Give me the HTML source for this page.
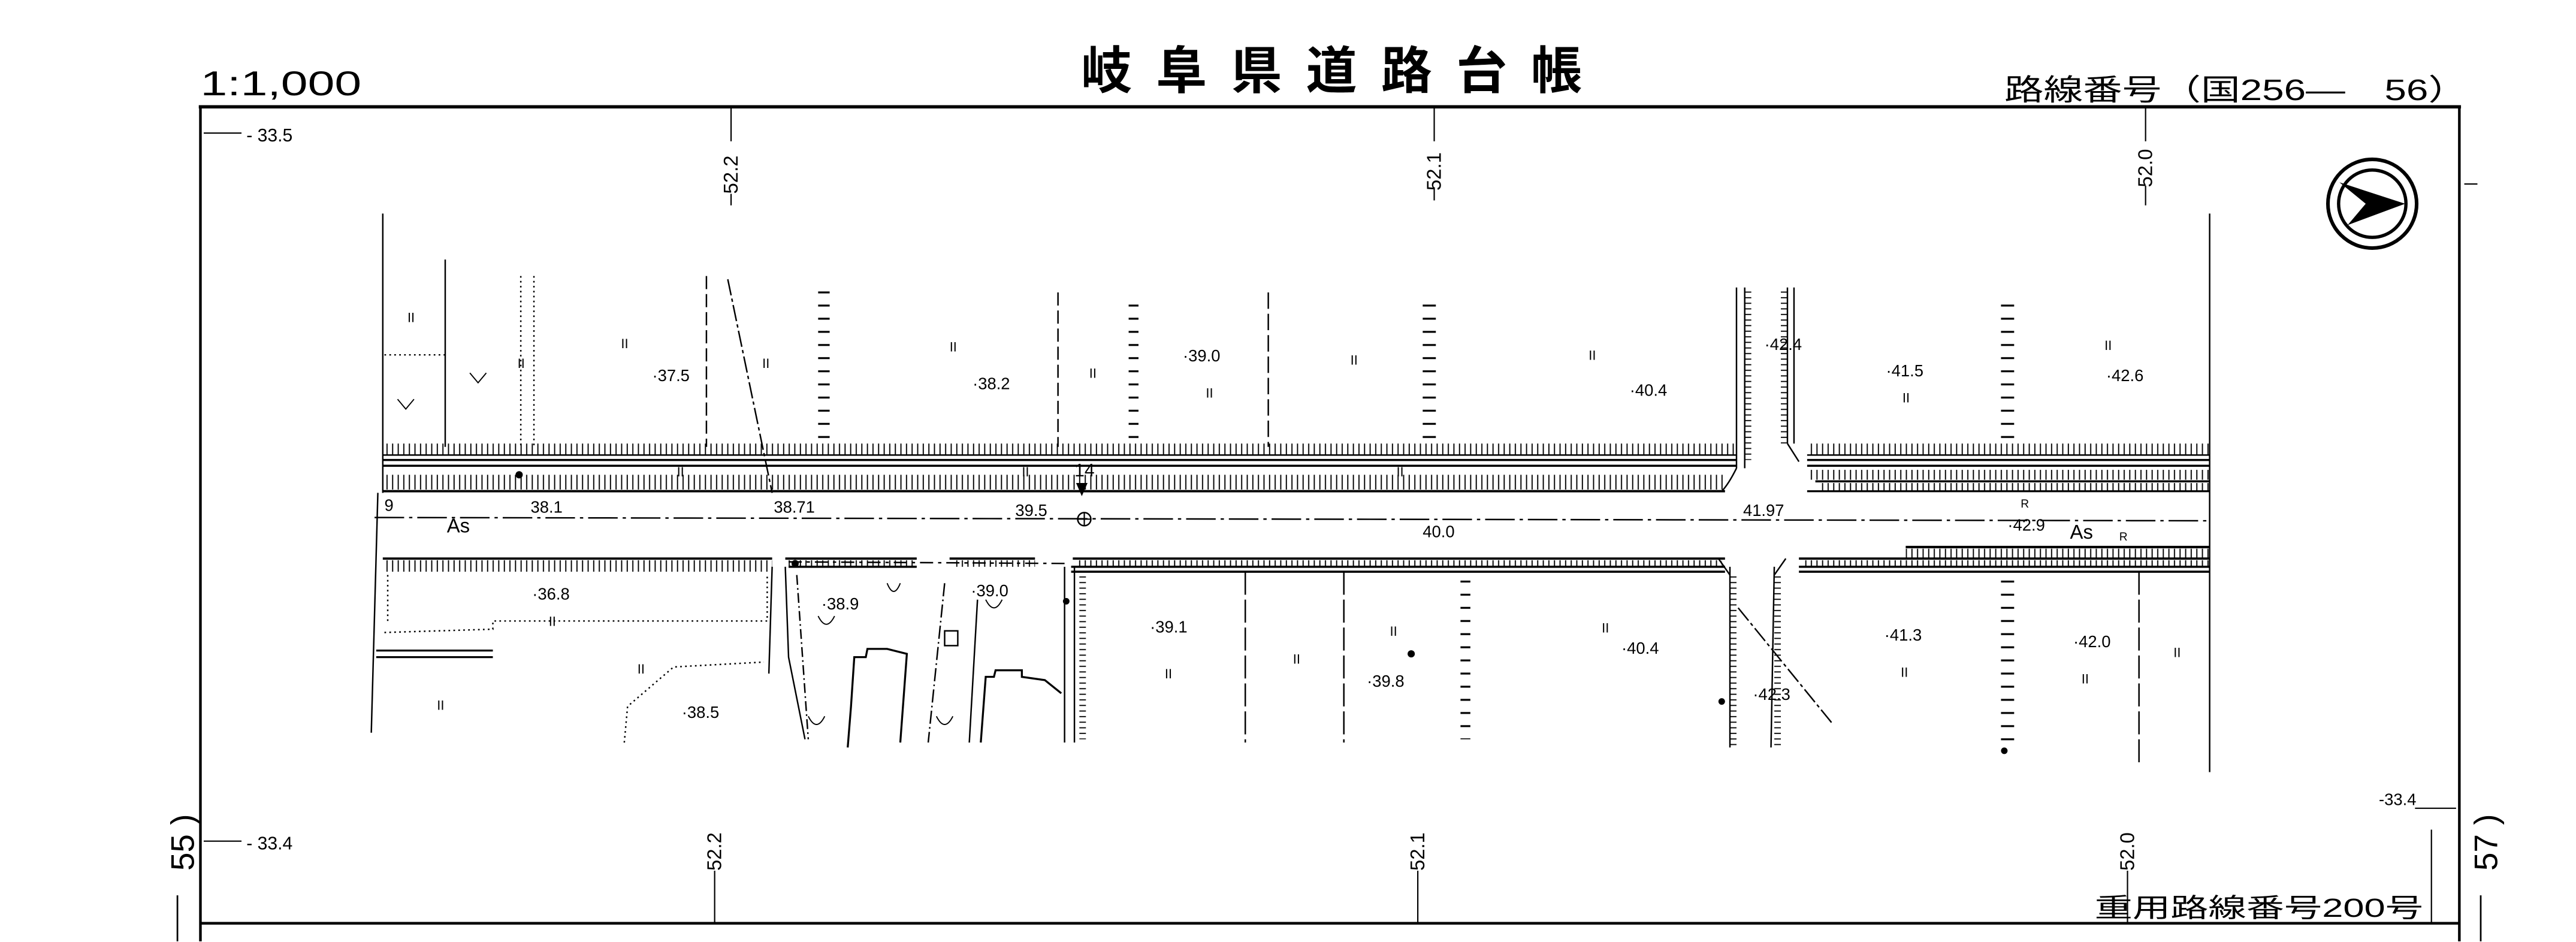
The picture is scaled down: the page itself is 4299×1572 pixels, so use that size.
<!DOCTYPE html>
<html><head><meta charset="utf-8"><style>
html,body{margin:0;padding:0;background:#fff;width:4299px;height:1572px;overflow:hidden}
svg{display:block}
text{font-family:"Liberation Sans","Noto Sans CJK JP",sans-serif;fill:#000}
</style></head><body>
<svg width="4299" height="1572" viewBox="0 0 1568 573.4" preserveAspectRatio="none" xmlns="http://www.w3.org/2000/svg">
<defs>
<pattern id="hd" width="3.4" height="10" patternUnits="userSpaceOnUse"><line x1="1" y1="0" x2="1" y2="10" stroke="#000" stroke-width="0.7"/></pattern>
<pattern id="hv" width="10" height="3.4" patternUnits="userSpaceOnUse"><line x1="0" y1="1" x2="10" y2="1" stroke="#000" stroke-width="0.7"/></pattern>
<pattern id="lad" width="8" height="8" patternUnits="userSpaceOnUse"><line x1="0" y1="2" x2="8" y2="2" stroke="#000" stroke-width="1.2"/></pattern>
</defs>
<!-- header -->
<text x="122" y="58" font-size="21" textLength="98" lengthAdjust="spacingAndGlyphs">1:1,000</text>
<text x="658" y="54" font-size="31" font-weight="bold" textLength="305" lengthAdjust="spacing">岐阜県道路台帳</text>
<text x="1220" y="61" font-size="18" textLength="282" lengthAdjust="spacingAndGlyphs">路線番号（国256—　56）</text>
<!-- frame -->
<g stroke="#000" fill="none">
<line x1="121" y1="65" x2="1498" y2="65" stroke-width="2"/>
<line x1="122" y1="65" x2="122" y2="573" stroke-width="1.6"/>
<line x1="1497" y1="65" x2="1497" y2="573" stroke-width="1.6"/>
<line x1="122" y1="562" x2="1497" y2="562" stroke-width="1.6"/>
<line x1="1480" y1="505" x2="1480" y2="562" stroke-width="0.8"/>
<line x1="124" y1="81" x2="147" y2="81" stroke-width="0.8"/>
<line x1="124" y1="512" x2="147" y2="512" stroke-width="0.8"/>
<line x1="445" y1="66" x2="445" y2="86" stroke-width="0.8"/><line x1="445" y1="118" x2="445" y2="125" stroke-width="0.8"/>
<line x1="873" y1="66" x2="873" y2="86" stroke-width="0.8"/><line x1="873" y1="114" x2="873" y2="122" stroke-width="0.8"/>
<line x1="1306" y1="66" x2="1306" y2="86" stroke-width="0.8"/><line x1="1306" y1="113" x2="1306" y2="125" stroke-width="0.8"/>
<line x1="435" y1="530" x2="435" y2="562" stroke-width="0.8"/>
<line x1="863" y1="530" x2="863" y2="562" stroke-width="0.8"/>
<line x1="1295" y1="530" x2="1295" y2="562" stroke-width="0.8"/>
<line x1="1470" y1="492" x2="1495" y2="492" stroke-width="0.8"/>
<line x1="108" y1="545" x2="108" y2="573" stroke-width="1"/>
<line x1="1510" y1="545" x2="1510" y2="573" stroke-width="1"/>
<line x1="1500" y1="112" x2="1508" y2="112" stroke-width="0.8"/>
</g>
<text x="150" y="86" font-size="11">- 33.5</text>
<text x="150" y="517" font-size="11">- 33.4</text>
<text x="1448" y="490" font-size="10">-33.4</text>
<text font-size="12" transform="translate(449,118) rotate(-90)">52.2</text>
<text font-size="12" transform="translate(877,116) rotate(-90)">52.1</text>
<text font-size="12" transform="translate(1310,114) rotate(-90)">52.0</text>
<text font-size="12" transform="translate(439,530) rotate(-90)">52.2</text>
<text font-size="12" transform="translate(867,530) rotate(-90)">52.1</text>
<text font-size="12" transform="translate(1299,530) rotate(-90)">52.0</text>
<text font-size="20" transform="translate(118,530) rotate(-90)">55 )</text>
<text font-size="20" transform="translate(1520,530) rotate(-90)">57 )</text>
<text x="1275" y="558" font-size="16" textLength="200" lengthAdjust="spacingAndGlyphs">重用路線番号200号</text>
<!-- compass -->
<circle cx="1444" cy="124" r="27" fill="none" stroke="#000" stroke-width="2.2"/>
<circle cx="1444" cy="124" r="20.5" fill="none" stroke="#000" stroke-width="2"/>
<path d="M1424,111 L1464,124 L1429,137 L1440,124 Z" fill="#000"/>
<!-- map boundaries -->
<g stroke="#000" fill="none" stroke-width="0.9">
<line x1="233" y1="130" x2="233" y2="300"/>
<line x1="230" y1="300" x2="226" y2="446"/>
<line x1="1345" y1="130" x2="1345" y2="470"/>
<line x1="233" y1="277" x2="1057" y2="277"/>
<line x1="233" y1="280" x2="1057" y2="280" stroke-width="1.3"/>
<line x1="233" y1="283.5" x2="1057" y2="283.5" stroke-width="1.3"/>
<line x1="233" y1="299" x2="1050" y2="299" stroke-width="1.4"/>
<line x1="1100" y1="277" x2="1345" y2="277"/>
<line x1="1100" y1="280" x2="1345" y2="280" stroke-width="1.3"/>
<line x1="1100" y1="283.5" x2="1345" y2="283.5" stroke-width="1.3"/>
<line x1="1105" y1="293" x2="1345" y2="293" stroke-width="1.3"/>
<line x1="1100" y1="299" x2="1345" y2="299" stroke-width="1.2"/>
<line x1="228" y1="315" x2="1345" y2="317" stroke-dasharray="18,3,2,3"/>
<line x1="233" y1="340" x2="470" y2="340" stroke-width="1.4"/>
<line x1="478" y1="340" x2="558" y2="340" stroke-width="1.4"/>
<line x1="578" y1="340" x2="630" y2="340" stroke-width="1.4"/>
<line x1="653" y1="340" x2="1050" y2="340" stroke-width="1.4"/>
<line x1="1095" y1="340" x2="1345" y2="340" stroke-width="1.4"/>
<line x1="1160" y1="333" x2="1345" y2="333" stroke-width="1.5"/>
<line x1="480" y1="345" x2="558" y2="345" stroke-width="1.3"/>
<line x1="652" y1="345" x2="1050" y2="345" stroke-width="1.3"/>
<line x1="652" y1="348" x2="1050" y2="348" stroke-width="1.3"/>
<line x1="1095" y1="345" x2="1345" y2="345" stroke-width="1.3"/>
<line x1="1095" y1="348" x2="1345" y2="348" stroke-width="1.3"/>
<line x1="480" y1="342" x2="650" y2="343" stroke-dasharray="8,3,2,3"/>
<line x1="1057" y1="175" x2="1057" y2="285"/>
<line x1="1062" y1="175" x2="1062" y2="285"/>
<path d="M1057,285 Q1052,295 1048,299"/>
<line x1="1088" y1="175" x2="1088" y2="270"/>
<line x1="1092" y1="175" x2="1092" y2="270"/>
<path d="M1088,270 L1095,281"/>
<line x1="1053" y1="345" x2="1053" y2="455"/>
<line x1="1080" y1="345" x2="1078" y2="455"/>
<path d="M1046,340 L1053,350"/><path d="M1087,340 L1080,350"/>
<line x1="430" y1="168" x2="430" y2="272" stroke-dasharray="8,3"/>
<line x1="644" y1="178" x2="644" y2="272" stroke-dasharray="8,3"/>
<line x1="772" y1="178" x2="772" y2="272" stroke-dasharray="10,3"/>
<line x1="271" y1="158" x2="271" y2="272"/>
<line x1="317" y1="168" x2="317" y2="272" stroke-dasharray="1,2"/>
<line x1="325" y1="168" x2="325" y2="272" stroke-dasharray="1,2"/>
<line x1="234" y1="216" x2="271" y2="216" stroke-dasharray="1,2"/>
<line x1="443" y1="170" x2="470" y2="300" stroke-dasharray="10,2,2,2"/>
<path d="M236,350 L236,380 M234,385 L300,383 L300,378 L467,378 L467,350" stroke-dasharray="1,2"/>
<path d="M229,396 L300,396 M229,400 L300,400" stroke-width="1.2"/>
<path d="M380,452 L382,430 L410,406 L465,403" stroke-dasharray="1,2"/>
<line x1="470" y1="345" x2="468" y2="410"/>
<path d="M478,345 L480,400 L490,450"/>
<path d="M485,350 L492,450" stroke-dasharray="6,2,1,2"/>
<line x1="758" y1="348" x2="758" y2="452" stroke-dasharray="14,3"/>
<line x1="818" y1="348" x2="818" y2="452" stroke-dasharray="14,3"/>
<line x1="1302" y1="348" x2="1302" y2="465" stroke-dasharray="14,3"/>
<line x1="575" y1="355" x2="565" y2="452" stroke-dasharray="8,2,1,2"/>
<line x1="595" y1="365" x2="590" y2="452"/>
<path d="M516,455 L518,430 L520,400 L527,400 L528,395 L540,395 L552,398 L548,452" stroke-width="1.2"/>
<path d="M597,452 L600,412 L605,412 L606,408 L622,408 L622,412 L636,414 L646,422" stroke-width="1.2"/>
<rect x="575" y="384" width="8" height="9"/>
<line x1="1058" y1="370" x2="1115" y2="440" stroke-dasharray="10,2,2,2"/>
<line x1="648" y1="345" x2="648" y2="452"/>
<line x1="654" y1="345" x2="654" y2="452"/>
</g>
<g>
<rect x="233" y="270" width="824" height="7" fill="url(#hd)"/>
<rect x="233" y="289" width="817" height="9" fill="url(#hd)"/>
<rect x="233" y="341" width="237" height="7" fill="url(#hd)"/>
<rect x="480" y="341" width="76" height="4" fill="url(#hd)"/>
<rect x="580" y="341" width="50" height="4" fill="url(#hd)"/>
<rect x="655" y="341" width="393" height="4" fill="url(#hd)"/>
<rect x="1097" y="341" width="248" height="4" fill="url(#hd)"/>
<rect x="1160" y="334" width="185" height="6" fill="url(#hd)"/>
<rect x="1100" y="270" width="245" height="7" fill="url(#hd)"/>
<rect x="1100" y="286" width="245" height="6" fill="url(#hd)"/>
<rect x="1108" y="294" width="237" height="5" fill="url(#hd)"/>
<rect x="1062" y="175" width="4" height="105" fill="url(#hv)"/>
<rect x="1084" y="175" width="4" height="95" fill="url(#hv)"/>
<rect x="1053" y="350" width="4" height="105" fill="url(#hv)"/>
<rect x="1080" y="350" width="4" height="105" fill="url(#hv)"/>
<rect x="657" y="350" width="4" height="100" fill="url(#hv)"/>
<rect x="498" y="172" width="7" height="100" fill="url(#lad)"/>
<rect x="687" y="180" width="6" height="92" fill="url(#lad)"/>
<rect x="866" y="180" width="8" height="92" fill="url(#lad)"/>
<rect x="1218" y="180" width="8" height="92" fill="url(#lad)"/>
<rect x="1218" y="348" width="8" height="105" fill="url(#lad)"/>
<rect x="889" y="350" width="6" height="100" fill="url(#lad)"/>
</g>
<g fill="#000">
<circle cx="316" cy="289" r="2.2"/><circle cx="484" cy="343" r="2.2"/><circle cx="649" cy="366" r="2"/>
<circle cx="859" cy="398" r="2.2"/><circle cx="1048" cy="427" r="2"/><circle cx="1220" cy="457" r="2"/>
<path d="M655,294 L662,294 L658.5,302 Z"/>
</g>
<circle cx="660" cy="316" r="4" fill="none" stroke="#000" stroke-width="0.9"/>
<path d="M656,316 L664,316 M660,312 L660,320" stroke="#000" stroke-width="0.8"/>
<g font-size="10">
<text x="397" y="232">·37.5</text><text x="592" y="237">·38.2</text><text x="720" y="220">·39.0</text>
<text x="992" y="241">·40.4</text><text x="1074" y="213">·42.4</text><text x="1148" y="229">·41.5</text>
<text x="1282" y="232">·42.6</text><text x="324" y="365">·36.8</text><text x="500" y="371">·38.9</text>
<text x="591" y="363">·39.0</text><text x="700" y="385">·39.1</text><text x="832" y="418">·39.8</text>
<text x="987" y="398">·40.4</text><text x="1067" y="426">·42.3</text><text x="1147" y="390">·41.3</text>
<text x="1262" y="394">·42.0</text><text x="415" y="437">·38.5</text>
<text x="234" y="311">9</text><text x="323" y="312">38.1</text><text x="471" y="312">38.71</text>
<text x="618" y="314">39.5</text><text x="1061" y="314">41.97</text><text x="866" y="327">40.0</text>
<text x="1222" y="323">·42.9</text><text x="654" y="290" font-size="11">14</text>
<text x="1230" y="309" font-size="7">R</text><text x="1290" y="329" font-size="7">R</text>
</g>
<text x="272" y="324" font-size="12">As</text><text x="1260" y="328" font-size="12">As</text>
<g font-size="8">
<text x="248" y="196">II</text><text x="378" y="212">II</text><text x="578" y="214">II</text><text x="663" y="230">II</text>
<text x="734" y="242">II</text><text x="822" y="222">II</text><text x="967" y="219">II</text><text x="1158" y="245">II</text>
<text x="1281" y="213">II</text><text x="412" y="290">II</text><text x="622" y="290">II</text><text x="850" y="290">II</text>
<text x="334" y="381">II</text><text x="709" y="413">II</text><text x="787" y="404">II</text><text x="975" y="385">II</text>
<text x="1157" y="412">II</text><text x="1267" y="416">II</text><text x="1323" y="400">II</text><text x="388" y="410">II</text>
<text x="266" y="432">II</text><text x="846" y="387">II</text><text x="464" y="224">II</text><text x="315" y="224">II</text>
</g>
<g fill="none" stroke="#000" stroke-width="0.7">
<path d="M286,227 L291,233 L296,227"/><path d="M242,243 L247,249 L252,243"/>
<path d="M540,355 Q544,365 548,355"/><path d="M600,365 Q605,375 610,365"/><path d="M498,375 Q503,385 508,375"/><path d="M492,436 Q497,446 502,436"/><path d="M570,436 Q575,446 580,436"/>
</g>
</svg>
</body></html>
